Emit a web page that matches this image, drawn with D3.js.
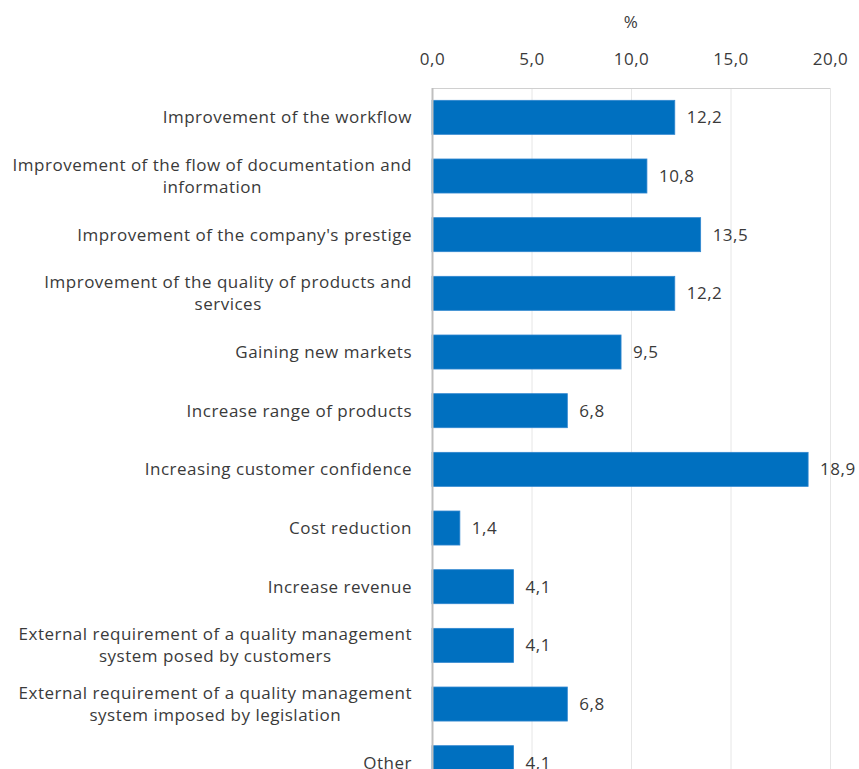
<!DOCTYPE html>
<html><head><meta charset="utf-8">
<script src="https://cdn.jsdelivr.net/npm/d3@7"></script>
<style>body{margin:0;background:#fff}svg{display:block}text{font-family:"Open Sans",sans-serif;fill:#3a3a3a;letter-spacing:0.5px}</style>
</head><body>
<script>
const categories = [
  ["Improvement of the workflow"],
  ["Improvement of the flow of documentation and", "information"],
  ["Improvement of the company's prestige"],
  ["Improvement of the quality of products and", "services"],
  ["Gaining new markets"],
  ["Increase range of products"],
  ["Increasing customer confidence"],
  ["Cost reduction"],
  ["Increase revenue"],
  ["External requirement of a quality management", "system posed by customers"],
  ["External requirement of a quality management", "system imposed by legislation"],
  ["Other"]
];
const values = [12.2, 10.8, 13.5, 12.2, 9.5, 6.8, 18.9, 1.4, 4.1, 4.1, 6.8, 4.1];
const tickValues = [0, 5, 10, 15, 20];
const axisTitle = "%";

(function () {
const W = 859, H = 769;
const pL = 432, pR = 830, pT = 88;
const step = 58.67;
const fs = "17px";
const svg = d3.select("body").append("svg").attr("width", W).attr("height", H);
const fmt = v => d3.format(".1f")(v).replace(".", ",");

const x = d3.scaleLinear().domain([0, 20]).range([pL, pR]);
const y = d3.scaleBand().domain(d3.range(values.length)).range([pT, pT + step * values.length]).paddingInner(0.42).paddingOuter(0.21);

svg.append("g").selectAll("line").data(tickValues.slice(1)).join("line")
  .attr("x1", d => x(d) + 0.5).attr("x2", d => x(d) + 0.5).attr("y1", pT).attr("y2", H)
  .attr("stroke", "#e6e6e6").attr("stroke-width", 1);
svg.append("line").attr("x1", pL).attr("x2", pR).attr("y1", pT + 0.5).attr("y2", pT + 0.5).attr("stroke", "#d0d0d0");

const ax = svg.append("g").attr("transform", `translate(0,${pT})`)
  .call(d3.axisTop(x).tickValues(tickValues).tickFormat(fmt).tickSize(0).tickPadding(23));
ax.select(".domain").remove();
ax.selectAll("text").style("font-size", fs).attr("fill", "#3a3a3a").style("font-family", null);

svg.append("text").attr("x", (pL + pR) / 2).attr("y", 28).attr("text-anchor", "middle")
  .style("font-size", fs).text(axisTitle);

svg.append("g").selectAll("rect").data(values).join("rect")
  .attr("x", x(0)).attr("y", (d, i) => y(i)).attr("width", d => x(d) - x(0)).attr("height", y.bandwidth())
  .attr("fill", "#0070c0").attr("stroke", "#2f86cf").attr("stroke-width", 0.8);

svg.append("line").attr("x1", pL + 0.5).attr("x2", pL + 0.5).attr("y1", pT).attr("y2", H).attr("stroke", "#bfbfbf").attr("stroke-width", 2);

svg.append("g").selectAll("text").data(values).join("text")
  .attr("x", d => x(d) + 12).attr("y", (d, i) => y(i) + y.bandwidth() / 2).attr("dy", "0.35em")
  .style("font-size", fs).text(d => fmt(d));

const lg = svg.append("g");
categories.forEach((lines, i) => {
  const cy = y(i) + y.bandwidth() / 2;
  const t = lg.append("text").style("font-size", fs).attr("text-anchor", "middle");
  const lh = 22;
  const spans = lines.map((l, j) => t.append("tspan").text(l)
    .attr("y", cy + (j - (lines.length - 1) / 2) * lh).attr("dy", "0.35em"));
  let maxW = 0;
  spans.forEach(s => { maxW = Math.max(maxW, s.node().getComputedTextLength()); });
  spans.forEach(s => s.attr("x", 412 - maxW / 2));
});
})();
</script>
</body></html>
